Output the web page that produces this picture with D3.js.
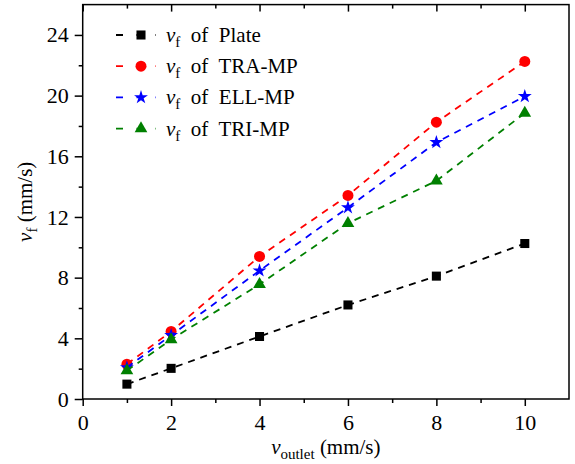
<!DOCTYPE html>
<html>
<head>
<meta charset="utf-8">
<script src="https://cdn.jsdelivr.net/npm/d3@7"></script>
<style>
  html, body { margin: 0; padding: 0; background: #fff; }
  svg { display: block; }
</style>
</head>
<body>
<svg id="chart" width="575" height="464"></svg>
<script>
// Outlet velocity (mm/s)
const outletVelocity = [1, 2, 4, 6, 8, 10];

// Front velocity v_f (mm/s) for each configuration
const plateValues = [0.98, 2.02, 4.12, 6.2, 8.1, 10.25];
const traValues   = [2.29, 4.45, 9.4, 13.42, 18.25, 22.25];
const ellValues   = [2.08, 4.2, 8.46, 12.62, 16.92, 19.95];
const triValues   = [1.87, 3.92, 7.56, 11.58, 14.38, 18.85];

const seriesNames  = ["Plate", "TRA-MP", "ELL-MP", "TRI-MP"];
const seriesColors = ["#000000", "#ff0000", "#0000ff", "#008000"];

const xTicksMajor = [0, 2, 4, 6, 8, 10];
const xTicksMinor = [1, 3, 5, 7, 9];
const yTicksMajor = [0, 4, 8, 12, 16, 20, 24];
const yTicksMinor = [2, 6, 10, 14, 18, 22];

const FONT = "Liberation Serif, Tinos, Times New Roman, Nimbus Roman, DejaVu Serif, serif";

const series = [
  { name: seriesNames[0], color: seriesColors[0], symbol: d3.symbolSquare,   size: 82, values: plateValues },
  { name: seriesNames[1], color: seriesColors[1], symbol: d3.symbolCircle,   size: 95, values: traValues },
  { name: seriesNames[2], color: seriesColors[2], symbol: d3.symbolStar,     size: 60, values: ellValues },
  { name: seriesNames[3], color: seriesColors[3], symbol: d3.symbolTriangle, size: 70, values: triValues }
];

const svg = d3.select("#chart");
const margin = { left: 82.7, right: 6, top: 4.6, bottom: 65 };
const W = 575, H = 464;

const x = d3.scaleLinear().domain([0, 11]).range([margin.left, W - margin.right]);
const y = d3.scaleLinear().domain([0, 26]).range([H - margin.bottom, margin.top]);

const x0 = x.range()[0], x1 = x.range()[1];
const y0 = y.range()[0], y1 = y.range()[1];

// plot frame
svg.append("rect")
  .attr("x", x0).attr("y", y1)
  .attr("width", x1 - x0).attr("height", y0 - y1)
  .attr("fill", "none").attr("stroke", "#000").attr("stroke-width", 1.5);

// bottom axis: major ticks with labels, minor ticks without
const bottomMajor = d3.axisBottom(x).tickValues(xTicksMajor).tickSize(7).tickPadding(8).tickFormat(d3.format("d"));
const bottomMinor = d3.axisBottom(x).tickValues(xTicksMinor).tickSize(4).tickFormat("");
const gxMinor = svg.append("g").attr("transform", `translate(0,${y0})`).call(bottomMinor);
const gx = svg.append("g").attr("transform", `translate(0,${y0})`).call(bottomMajor);

// top frame ticks point inward
const topMajor = d3.axisBottom(x).tickValues(xTicksMajor).tickSize(7).tickFormat("");
const topMinor = d3.axisBottom(x).tickValues(xTicksMinor).tickSize(4).tickFormat("");
const gtMinor = svg.append("g").attr("transform", `translate(0,${y1})`).call(topMinor);
const gt = svg.append("g").attr("transform", `translate(0,${y1})`).call(topMajor);

// left axis
const leftMajor = d3.axisLeft(y).tickValues(yTicksMajor).tickSize(8).tickPadding(6).tickFormat(d3.format("d"));
const leftMinor = d3.axisLeft(y).tickValues(yTicksMinor).tickSize(4).tickFormat("");
const gyMinor = svg.append("g").attr("transform", `translate(${x0},0)`).call(leftMinor);
const gy = svg.append("g").attr("transform", `translate(${x0},0)`).call(leftMajor);

[gx, gxMinor, gt, gtMinor, gy, gyMinor].forEach(g => {
  g.attr("font-family", null).attr("font-size", null);
  g.select(".domain").remove();
  g.selectAll(".tick line").attr("stroke", "#000").attr("stroke-width", 1.5);
  g.selectAll(".tick text").attr("fill", "#000").attr("data-size", 22);
});
gx.selectAll(".tick text").attr("dy", "0.72em");

// axis titles
const xTitle = svg.append("text")
  .attr("x", (x0 + x1) / 2).attr("y", 454)
  .attr("text-anchor", "middle")
  .attr("data-size", 21);
xTitle.append("tspan").attr("font-style", "italic").text("v");
xTitle.append("tspan").attr("dy", 5).attr("data-size", 15).text("outlet");
xTitle.append("tspan").attr("dy", -5).text(" (mm/s)");

const yTitle = svg.append("text")
  .attr("transform", `translate(32,${(y0 + y1) / 2}) rotate(-90)`)
  .attr("text-anchor", "middle")
  .attr("data-size", 21);
yTitle.append("tspan").attr("font-style", "italic").text("v");
yTitle.append("tspan").attr("dy", 5).attr("data-size", 15).text("f");
yTitle.append("tspan").attr("dy", -5).text(" (mm/s)");

// series lines and markers
const line = d3.line().x((d, i) => x(outletVelocity[i])).y(d => y(d));

series.forEach(s => {
  svg.append("path")
    .attr("d", line(s.values))
    .attr("fill", "none")
    .attr("stroke", s.color)
    .attr("stroke-width", 1.8)
    .attr("stroke-dasharray", "7,6");

  svg.selectAll(null)
    .data(s.values)
    .enter().append("path")
    .attr("transform", (d, i) => `translate(${x(outletVelocity[i])},${y(d)})`)
    .attr("d", d3.symbol().type(s.symbol).size(s.size))
    .attr("fill", s.color);
});

// legend
const legendX = 116, legendY0 = 35, legendStep = 31.2;
series.forEach((s, i) => {
  const ly = legendY0 + i * legendStep;
  const g = svg.append("g");
  g.append("line")
    .attr("x1", legendX).attr("x2", legendX + 40)
    .attr("y1", ly).attr("y2", ly)
    .attr("stroke", s.color).attr("stroke-width", 1.8)
    .attr("stroke-dasharray", "7,13.5,6,13");
  g.append("path")
    .attr("transform", `translate(${legendX + 25},${ly})`)
    .attr("d", d3.symbol().type(s.symbol).size(s.size))
    .attr("fill", s.color);
  const t = g.append("text")
    .attr("x", legendX + 50).attr("y", ly + 7)
    .attr("data-size", 21)
    .attr("xml:space", "preserve");
  t.append("tspan").attr("font-style", "italic").text("v");
  t.append("tspan").attr("dy", 5).attr("data-size", 15).text("f");
  t.append("tspan").attr("dy", -5).text("  of  " + s.name);
});

// serif face and sizes on every label; re-applied a few times with a
// negligible size nudge so each pass resolves the face afresh
let pass = 0;
function applyFont() {
  const nudge = (pass++) * 0.002;
  svg.selectAll("text, tspan").each(function () {
    const el = d3.select(this);
    el.attr("font-family", FONT);
    const s = el.attr("data-size");
    if (s) el.attr("font-size", (+s + nudge).toFixed(3));
  });
}
applyFont();
requestAnimationFrame(applyFont);
[60, 200, 500, 1000].forEach(t => setTimeout(applyFont, t));
if (document.fonts) document.fonts.ready.then(applyFont);
</script>
</body>
</html>
